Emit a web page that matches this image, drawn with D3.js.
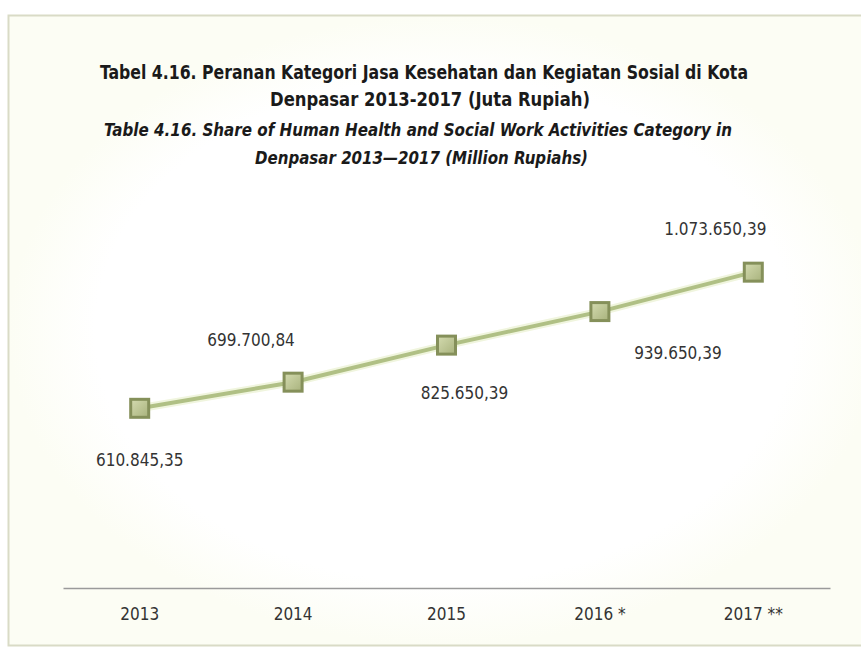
<!DOCTYPE html>
<html>
<head>
<meta charset="utf-8">
<script src="https://cdnjs.cloudflare.com/ajax/libs/d3/7.8.5/d3.min.js"></script>
<style>
  body { margin: 0; background: #fff; }
  svg { display: block; }
</style>
</head>
<body>
<div id="chart-area"></div>
<script>
/*
*    Peranan Kategori Jasa Kesehatan - Denpasar
*/

// data
var years = ["2013", "2014", "2015", "2016 *", "2017 **"];
var values = [610845.35, 699700.84, 825650.39, 939650.39, 1073650.39];
var valueLabels = ["610.845,35", "699.700,84", "825.650,39", "939.650,39", "1.073.650,39"];
// where each value label sits relative to its point
var labelPlacement = [[0, 52], [-42, -42], [18, 48], [78, 41], [-38, -43]];

var titleLines = [
    "Tabel 4.16. Peranan Kategori Jasa Kesehatan dan Kegiatan Sosial di Kota",
    "Denpasar 2013-2017 (Juta Rupiah)"
];
var subtitleLines = [
    "Table 4.16.  Share of Human Health and Social Work Activities Category in",
    "Denpasar 2013\u20142017 (Million Rupiahs)"
];

var W = 861, H = 648;
var fontNarrow = "'Liberation Sans Narrow', 'DejaVu Sans Condensed', sans-serif";

var svg = d3.select("#chart-area").append("svg")
    .attr("width", W)
    .attr("height", H);

var defs = svg.append("defs");
var grad = defs.append("radialGradient").attr("id", "bg");
grad.append("stop").attr("offset", "80%").attr("stop-color", "#ffffff");
grad.append("stop").attr("offset", "100%").attr("stop-color", "#fcfdf4");

var mg = defs.append("linearGradient").attr("id", "mk")
    .attr("x1", 0).attr("y1", 0).attr("x2", 1).attr("y2", 1);
mg.append("stop").attr("offset", "0%").attr("stop-color", "#d4dbb0");
mg.append("stop").attr("offset", "100%").attr("stop-color", "#a8b27c");

// frame
svg.append("rect")
    .attr("x", 8.5).attr("y", 15.5)
    .attr("width", W + 10).attr("height", H - 18)
    .attr("fill", "url(#bg)")
    .attr("stroke", "#d9dbc6")
    .attr("stroke-width", 2);

// titles
var tl = [[72, 100, 748], [99, 270, 590]];
titleLines.forEach(function(s, i) {
    svg.append("text")
        .attr("x", (tl[i][1] + tl[i][2]) / 2)
        .attr("y", tl[i][0])
        .attr("dy", "0.35em")
        .attr("text-anchor", "middle")
        .attr("font-family", fontNarrow)
        .attr("font-weight", "bold")
        .attr("font-size", "19px")
        .attr("fill", "#1a1a1a")
        .attr("textLength", tl[i][2] - tl[i][1])
        .attr("lengthAdjust", "spacingAndGlyphs")
        .text(s);
});
var sl = [[130, 104, 732], [158, 255, 588]];
subtitleLines.forEach(function(s, i) {
    svg.append("text")
        .attr("x", (sl[i][1] + sl[i][2]) / 2)
        .attr("y", sl[i][0])
        .attr("dy", "0.35em")
        .attr("text-anchor", "middle")
        .attr("font-family", fontNarrow)
        .attr("font-weight", "bold")
        .attr("font-style", "italic")
        .attr("font-size", "18px")
        .attr("fill", "#1a1a1a")
        .attr("textLength", sl[i][2] - sl[i][1])
        .attr("lengthAdjust", "spacingAndGlyphs")
        .text(s);
});

// scales
var x = d3.scaleBand().domain(years).range([63, 830]);
var y = d3.scaleLinear().domain([0, 1200000]).range([588, 235]);

var cx = function(d, i) { return x(years[i]) + x.bandwidth() / 2; };

// x-axis
var xAxis = svg.append("g")
    .attr("transform", "translate(0,588)")
    .call(d3.axisBottom(x).tickSize(0).tickPadding(20));
xAxis.select(".domain")
    .attr("stroke", "#9a9a9a")
    .attr("stroke-width", 1.5);
xAxis.selectAll("text")
    .attr("font-family", fontNarrow)
    .attr("font-size", "17px")
    .attr("fill", "#333");

// line
var line = d3.line()
    .x(cx)
    .y(function(d) { return y(d); });

svg.append("path")
    .attr("d", line(values))
    .attr("fill", "none")
    .attr("stroke", "#f0f5de")
    .attr("stroke-width", 8);
svg.append("path")
    .attr("d", line(values))
    .attr("fill", "none")
    .attr("stroke", "#b0c085")
    .attr("stroke-width", 4);

// markers
svg.selectAll(".marker")
    .data(values)
    .enter().append("rect")
    .attr("class", "marker")
    .attr("x", function(d, i) { return cx(d, i) - 9; })
    .attr("y", function(d) { return y(d) - 9; })
    .attr("width", 18)
    .attr("height", 18)
    .attr("fill", "url(#mk)")
    .attr("stroke", "#85905a")
    .attr("stroke-width", 3);

// value labels
svg.selectAll(".vlabel")
    .data(values)
    .enter().append("text")
    .attr("class", "vlabel")
    .attr("x", function(d, i) { return cx(d, i) + labelPlacement[i][0]; })
    .attr("y", function(d, i) { return y(d) + labelPlacement[i][1]; })
    .attr("dy", "0.35em")
    .attr("text-anchor", "middle")
    .attr("font-family", fontNarrow)
    .attr("font-size", "17px")
    .attr("fill", "#333")
    .text(function(d, i) { return valueLabels[i]; });
</script>
</body>
</html>
